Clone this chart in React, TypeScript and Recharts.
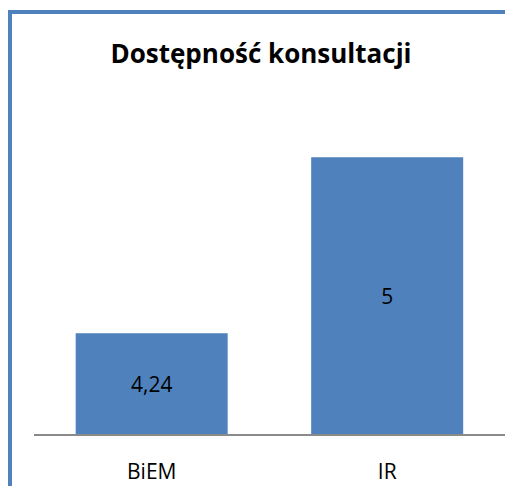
import { BarChart, Bar, XAxis, YAxis, LabelList } from 'recharts';

const categories = ['BiEM', 'IR'];
const values = [4.24, 5];
const chartTitle = 'Dostępność konsultacji';

const data = categories.map((name, i) => ({ name, value: values[i] }));

const FONT = '"Open Sans", "Noto Sans", sans-serif';
const FRAME = '#4F81BD';

const App = () => {
    return (
        <div
            style={{
                position: 'fixed',
                left: 0,
                top: 0,
                width: 505,
                height: 486,
                overflow: 'hidden',
                background: '#ffffff',
            }}
        >
            {/* chart frame: only the top and left edges fall inside the picture */}
            <div style={{ position: 'absolute', left: 8, top: 10, width: 497, height: 4, background: FRAME }} />
            <div style={{ position: 'absolute', left: 8, top: 10, width: 4, height: 476, background: FRAME }} />
            <div
                style={{
                    position: 'absolute',
                    left: 61,
                    top: 40,
                    width: 400,
                    textAlign: 'center',
                    fontFamily: FONT,
                    fontWeight: 700,
                    fontSize: 26,
                    lineHeight: 1,
                    color: '#000',
                    whiteSpace: 'nowrap',
                }}
            >
                {chartTitle}
            </div>
            <div style={{ position: 'absolute', left: 0, top: 0 }}>
                <BarChart
                    width={505}
                    height={486}
                    data={data}
                    margin={{ top: 111, right: 0, bottom: 0, left: 34 }}
                    barCategoryGap="17.7%"
                >
                    <XAxis
                        dataKey="name"
                        axisLine={{ stroke: '#8a8a8a', strokeWidth: 2 }}
                        tickLine={false}
                        tickSize={0}
                        tickMargin={29}
                        height={51}
                        tick={{ fill: '#000', fontSize: 21, fontFamily: FONT }}
                    />
                    <YAxis hide domain={[3.8, 5.2]} allowDataOverflow />
                    <Bar dataKey="value" fill="#4F81BD" isAnimationActive={false}>
                        <LabelList
                            dataKey="value"
                            position="center"
                            formatter={(v: any) => String(v).replace('.', ',')}
                            style={{ fill: '#000', fontSize: 21, fontFamily: FONT }}
                        />
                    </Bar>
                </BarChart>
            </div>
        </div>
    );
};

export default App;
